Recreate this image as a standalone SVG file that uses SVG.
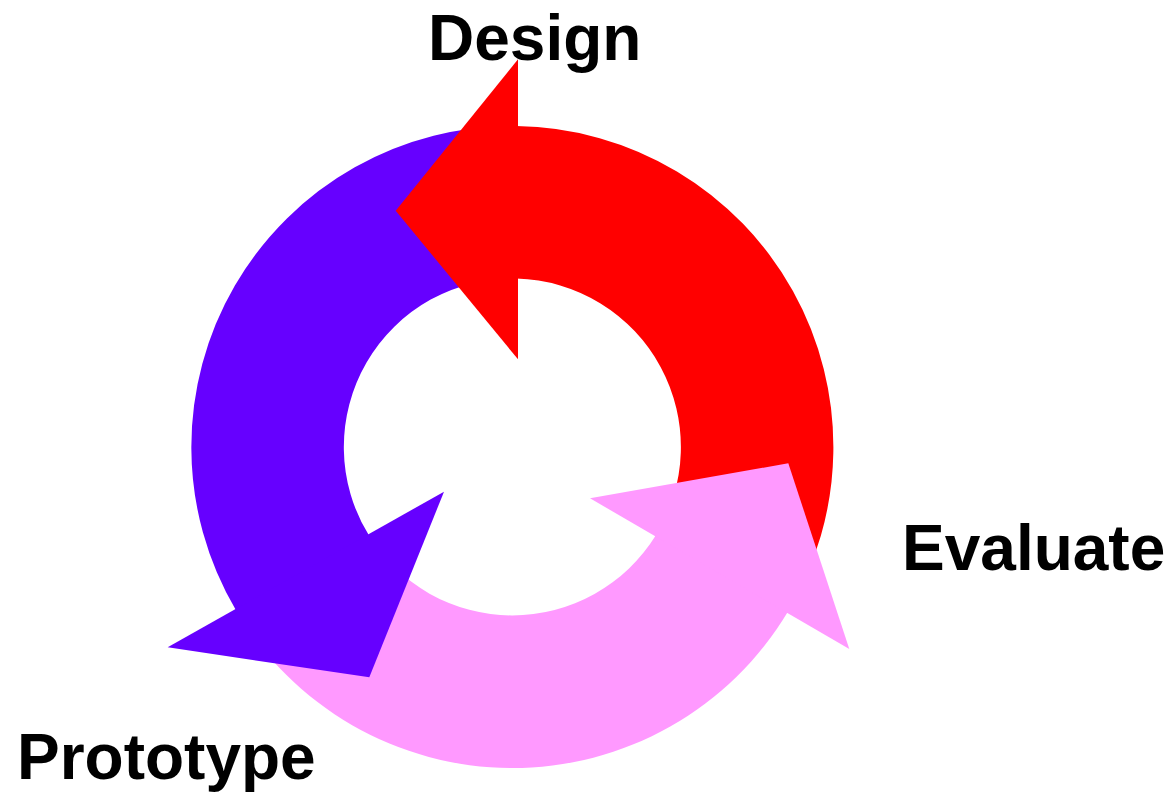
<svg xmlns="http://www.w3.org/2000/svg" width="1171" height="793" viewBox="0 0 1171 793">
<style>
.lbl{font-family:"Liberation Sans",Arial,sans-serif;font-weight:bold;font-size:64px;fill:#000}
.red{fill:#FF0000}
.pink{fill:#FF99FF}
.purple{fill:#6600FF}
</style>
<rect width="1171" height="793" fill="#fff"/>
<g id="connectors">
<path id="red-body" class="red" d="M516.5,126.05 A321,321 0 0 1 787.2,612.9 L655.3,536.3 A168.5,168.5 0 0 0 516.5,278.6 Z"/>
<path id="pink-body" class="pink" d="M788,611.6 A321,321 0 0 1 235.4,609.2 L368.3,534.3 A168.5,168.5 0 0 0 656,535 Z"/>
<path id="purple-body" class="purple" d="M236.1,610.5 A321,321 0 0 1 518,126.05 L518,278.6 A168.5,168.5 0 0 0 369,535.6 Z"/>
<polygon id="red-head" class="red" points="518,59.3 395.7,210.7 518,359.3"/>
<polygon id="pink-head" class="pink" points="590,498.3 788.3,463.3 849.3,649"/>
<polygon id="purple-head" class="purple" points="444,491.7 369.3,677.3 167.7,647.3"/>
</g>
<g id="design"><text class="lbl" x="428" y="60">Design</text></g>
<g id="evaluate"><text class="lbl" x="902" y="570">Evaluate</text></g>
<g id="prototype"><text class="lbl" x="17" y="779">Prototype</text></g>
</svg>
